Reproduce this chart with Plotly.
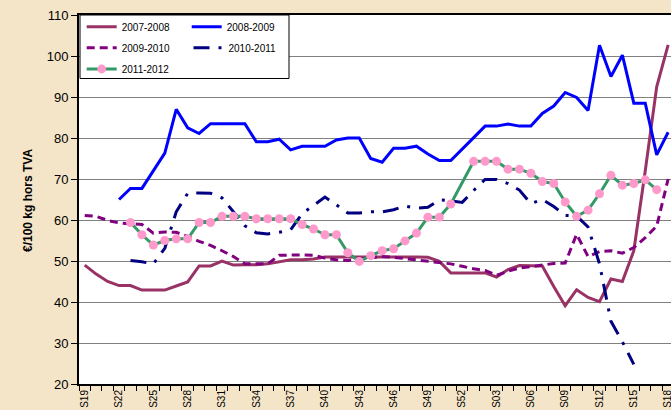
import plotly.graph_objects as go

weeks = ["S19", "S20", "S21", "S22", "S23", "S24", "S25", "S26", "S27", "S28",
         "S29", "S30", "S31", "S32", "S33", "S34", "S35", "S36", "S37", "S38",
         "S39", "S40", "S41", "S42", "S43", "S44", "S45", "S46", "S47", "S48",
         "S49", "S50", "S51", "S52", "S01", "S02", "S03", "S04", "S05", "S06",
         "S07", "S08", "S09", "S10", "S11", "S12", "S13", "S14", "S15", "S16",
         "S17", "S18"]

s2007_2008 = [49, 46.8, 45, 44, 44, 42.9, 42.9, 42.9, 43.9, 44.9,
              48.8, 48.8, 50, 49, 49.1, 49.1, 49.3, 49.8, 50.3, 50.3,
              50.5, 51, 51, 51, 51, 51, 51.1, 51, 51, 51,
              50.9, 49.9, 47.1, 47.1, 47.1, 47.1, 46.1, 47.9, 48.9, 48.9,
              48.8, 43.8, 39.1, 43, 41.1, 40.1, 45.6, 45, 52.5, 72,
              92.5, 102.7]

s2008_2009 = [None, None, None, 65, 67.7, 67.7, 72.1, 76.3, 87, 82.5,
              81.1, 83.5, 83.5, 83.5, 83.5, 79.1, 79.1, 79.7, 77.1, 78,
              78, 78, 79.5, 80, 80, 75, 74.1, 77.5, 77.5, 78,
              76.1, 74.5, 74.5, 77.2, 80.1, 82.9, 82.9, 83.4, 82.9, 82.9,
              86, 87.8, 91.1, 89.9, 86.7, 102.6, 95, 100.2, 88.5, 88.5,
              75.9, 81.4]

s2009_2010 = [61.1, 60.9, 59.9, 59.3, 59.1, 58.9, 56.8, 57.1, 57, 56,
              54.8, 53.8, 52.5, 51.1, 49.3, 49.3, 49.3, 51.4, 51.5, 51.5,
              51.4, 50.7, 50.3, 50.1, 50.5, 50.8, 51.1, 50.9, 50.6, 50.3,
              49.9, 49.7, 49.3, 48.7, 48.1, 47.7, 46.5, 47.5, 48.3, 48.6,
              49, 49.4, 49.5, 56.5, 51.1, 52.3, 52.5, 51.9, 53.3, 55.7,
              58.5, 70]

s2010_2011 = [None, None, None, None, 50.1, 49.8, 49.3, 53.1, 62, 66.5,
              66.6, 66.5, 65.4, 62, 58.6, 56.9, 56.6, 57, 57.6, 61.5,
              63.6, 65.6, 63.7, 61.7, 61.7, 62, 62, 62.5, 63.4, 62.9,
              63.1, 64.9, 64.7, 64.3, 67.2, 69.9, 69.9, 68.9, 67.3, 64,
              65, 63.3, 61.1, 61, 58.3, 49.3, 35.3, 30.3, 24.8, None,
              None, None]

s2011_2012 = [None, None, None, None, 59.4, 56.4, 53.9, 55, 55.4, 55.4,
              59.4, 59.4, 60.9, 60.9, 60.9, 60.3, 60.3, 60.3, 60.3, 58.9,
              57.8, 56.4, 56.4, 52, 49.9, 51.3, 52.5, 53, 54.9, 56.8,
              60.7, 60.7, 63.9, 69, 74.3, 74.3, 74.3, 72.4, 72.4, 71.4,
              69.4, 68.9, 64.4, 60.9, 62.4, 66.4, 70.9, 68.5, 68.9, 69.8,
              67.4, None]

no_marker_weeks = ["S52"]
y_title = "€/100 kg hors TVA"

xs = list(range(len(weeks)))
label_step = 3

FONT = "Arial, Liberation Sans, sans-serif"
BG = "#f4e5c8"

# plot-area geometry in pixels (for placing legend boxes and axis title)
W, H = 671, 410
ML, MR, MT, MB = 79, 0, 15, 26
PW, PH = W - ML - MR, H - MT - MB


def fx(px):
    return (px - ML) / PW


def fy(py):
    return (H - MB - py) / PH


fig = go.Figure()

fig.add_trace(go.Scatter(x=xs, y=s2007_2008, name="2007-2008", mode="lines",
                         line=dict(color="#993366", width=3), legend="legend"))
fig.add_trace(go.Scatter(x=xs, y=s2008_2009, name="2008-2009", mode="lines",
                         line=dict(color="#0000FF", width=3), legend="legend2"))
fig.add_trace(go.Scatter(x=xs, y=s2009_2010, name="2009-2010", mode="lines",
                         line=dict(color="#800080", width=3, dash="8px,5px"),
                         legend="legend3"))
fig.add_trace(go.Scatter(x=xs, y=s2010_2011, name="2010-2011", mode="lines",
                         line=dict(color="#000080", width=3, dash="16px,9px,3px,9px"),
                         legend="legend4"))
sizes = [0 if w in no_marker_weeks else 9 for w in weeks]
fig.add_trace(go.Scatter(x=xs, y=s2011_2012, name="2011-2012", mode="lines+markers",
                         line=dict(color="#339966", width=3),
                         marker=dict(color="#FF99CC", size=sizes, opacity=1,
                                     line=dict(width=0)),
                         legend="legend5"))

# legend frame
fig.add_shape(type="rect", xref="paper", yref="paper",
              x0=fx(80), x1=fx(289), y0=fy(78.5), y1=fy(15),
              line=dict(color="black", width=1), fillcolor="white", layer="above")

# y-axis title
fig.add_annotation(text="<b>" + y_title + "</b>", xref="paper", yref="paper",
                   x=fx(28), y=fy(201), xanchor="center", yanchor="middle",
                   textangle=-90, showarrow=False,
                   font=dict(family=FONT, size=12, color="black"))

leg_common = dict(orientation="h", bgcolor="rgba(0,0,0,0)", borderwidth=0,
                  font=dict(family=FONT, size=10, color="black"),
                  xanchor="left", yanchor="middle", itemwidth=30)

fig.update_layout(
    width=W, height=H,
    margin=dict(l=ML, r=MR, t=MT, b=MB, autoexpand=False),
    paper_bgcolor=BG,
    plot_bgcolor="white",
    showlegend=True,
    legend=dict(x=fx(81.7), y=fy(26.7), **leg_common),
    legend2=dict(x=fx(186.7), y=fy(26.7), **leg_common),
    legend3=dict(x=fx(81.7), y=fy(47.7), **leg_common),
    legend4=dict(x=fx(188.5), y=fy(47.7), **leg_common),
    legend5=dict(x=fx(81.7), y=fy(69), **leg_common),
    xaxis=dict(
        range=[-0.5, 51.25],
        tickmode="array",
        tickvals=xs[::label_step],
        ticktext=weeks[::label_step],
        tickangle=-90,
        tickfont=dict(family=FONT, size=10, color="black"),
        ticklabeloverflow="allow",
        ticks="",
        minor=dict(ticks="outside", ticklen=5, tickcolor="black", tick0=-0.5, dtick=1,
                   showgrid=False),
        showgrid=False,
        zeroline=False,
        showline=True, linecolor="black", linewidth=2, mirror=True,
        automargin=False,
    ),
    yaxis=dict(
        range=[20, 110],
        dtick=10,
        tickfont=dict(family=FONT, size=13, color="black"),
        ticks="outside", ticklen=6, tickcolor="black",
        showgrid=True, gridcolor="#808080", gridwidth=1,
        zeroline=False,
        showline=True, linecolor="black", linewidth=2,
        automargin=False,
    ),
)

fig.write_html(
    "out.html",
    config={"displayModeBar": False},
    post_script=(
        "document.documentElement.style.margin='0';"
        "document.body.style.margin='0';"
        "document.body.style.overflow='hidden';"
        "document.body.style.background='" + BG + "';"
    ),
)
